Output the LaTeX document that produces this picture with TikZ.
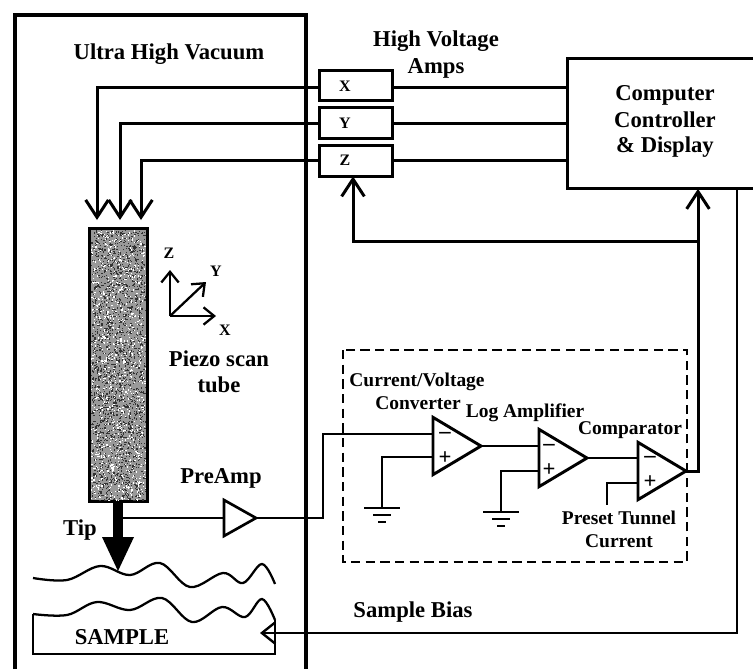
\documentclass[tikz,border=0pt]{standalone}
\usepackage{fontspec}
\setmainfont{Liberation Serif}
\usetikzlibrary{shapes.geometric,arrows.meta,calc}
\tikzset{
 x=0.75pt,y=-0.75pt,
 wire/.style={line width=2.25pt,line join=miter},
 thinwire/.style={line width=1.9pt},
 openarrow/.style={-{Straight Barb[length=13pt,width=17pt,line width=2.25pt]}},
 biasarrow/.style={-{Straight Barb[length=10pt,width=16pt,line width=1.8pt]}},
 label/.style={font=\bfseries\fontsize{17}{19}\selectfont,inner sep=0pt},
 oplabel/.style={font=\bfseries\fontsize{14.6}{17}\selectfont,inner sep=0pt},
 small/.style={font=\bfseries\fontsize{12}{13}\selectfont,inner sep=0pt},
 amp/.style={draw,line width=2.25pt,minimum width=55pt,minimum height=23pt,inner sep=0pt,outer sep=0pt},
 opamp/.style={draw,isosceles triangle,isosceles triangle stretches,line width=2.2pt,minimum width=43pt,minimum height=36pt,inner sep=0pt,outer sep=0pt},
 preamp/.style={draw,isosceles triangle,isosceles triangle stretches,line width=2pt,minimum width=27pt,minimum height=24pt,inner sep=0pt,outer sep=0pt},
 sign/.style={font=\bfseries\fontsize{17}{18}\selectfont,inner sep=0pt},
}
\begin{document}
\begin{tikzpicture}
\useasboundingbox (0,0) rectangle (753,669);
\clip (0,0) rectangle (753,669);
\fill[white] (0,0) rectangle (753,669);
% vacuum chamber
\draw[line width=3pt] (15,669) -- (15,15) -- (306,15) -- (306,669);
\node[label] (uhv) at (169,54) {Ultra High Vacuum};
\node[label] (hva) at (436,41) {High Voltage};
\node[label] (hvb) at (436,68) {Amps};
% amps
\node[amp] (ampx) at (356,85.5) {}; \node[small] (lx) at (345,86) {X};
\node[amp] (ampy) at (356,123) {}; \node[small] (ly) at (345,123) {Y};
\node[amp] (ampz) at (356,161) {}; \node[small] (lz) at (345,160) {Z};
% computer
\node[draw,line width=2.25pt,minimum width=150pt,minimum height=98pt,inner sep=0pt,outer sep=0pt] (comp) at (667,123.5) {};
\node[label] (c1) at (665,95) {Computer};
\node[label] (c2) at (665,120) {Controller};
\node[label] (c3) at (665,147) {\&\ Display};
% tube
\node[draw,line width=2.4pt,minimum width=43.5pt,minimum height=205pt,inner sep=0pt,outer sep=0pt,fill=gray!80] (tube) at (118.5,365) {};
\pgfmathsetseed{7}
\foreach \i in {1,...,3000}{
 \pgfmathsetmacro{\xa}{91+rnd*54}
 \pgfmathsetmacro{\ya}{230+rnd*270}
 \pgfmathparse{mod(\i,3)==0?"white":"black!80"}
 \fill[\pgfmathresult] (\xa,\ya) rectangle ++(1.2,1.2);
}
\coordinate (tx) at (97,220);
\coordinate (ty) at (120,220);
\coordinate (tz) at (141,220);
\coordinate (wx) at (97,87);
\coordinate (wy) at (120,123);
\coordinate (wz) at (141,160);
\draw[wire,openarrow] (ampx.west |- wx) -- (wx) -- (tx);
\draw[wire,openarrow] (ampy.west |- wy) -- (wy) -- (ty);
\draw[wire,openarrow] (ampz.west |- wz) -- (wz) -- (tz);
\draw[wire] (ampx.east |- wx) -- (comp.west |- wx);
\draw[wire] (ampy.east |- wy) -- (comp.west |- wy);
\draw[wire] (ampz.east |- wz) -- (comp.west |- wz);
% axes
\coordinate (o) at (170,316);
\coordinate (zt) at (170,270);
\coordinate (yt) at (206,282);
\coordinate (xt) at (216,316);
\draw[line width=1.7pt,-{Straight Barb[length=8pt,width=13pt,line width=1.7pt]}] (o) -- (zt);
\draw[line width=1.7pt,-{Straight Barb[length=8pt,width=13pt,line width=1.7pt]}] (o) -- (yt);
\draw[line width=1.7pt,-{Straight Barb[length=8pt,width=13pt,line width=1.7pt]}] (o) -- (xt);
\node[small] (az) at (169,253) {Z};
\node[small] (ay) at (216,271) {Y};
\node[small] (ax) at (225,330) {X};
\node[label] (pz1) at (219,359) {Piezo scan};
\node[label] (pz2) at (219,385) {tube};
% tip
\fill (113,503) rectangle (123,540);
\fill (102,537) -- (134,537) -- (118,571) -- cycle;
\coordinate (tipout) at (122,518);
\node[label] (ltip) at (80,530) {Tip};
\node[label] (lpre) at (221,478) {PreAmp};
\node[preamp,anchor=lower side] (pre) at (224,518) {};
\draw[thinwire] (tipout) -- (pre.lower side);
\coordinate (j1) at (323,518);
\coordinate (j2) at (323,434);
% dashed box
\draw[line width=1.6pt,dash pattern=on 7pt off 4pt] (343,350) rectangle (687,562);
\node[opamp,anchor=lower side] (op1) at (433,446) {};
\node[opamp,anchor=lower side] (op2) at (539,458) {};
\node[opamp,anchor=lower side] (op3) at (638,471) {};
\node[sign] (s1) at (445,435) {–};
\node[sign] (s2) at (445,458) {+};
\node[sign] (s3) at (549,447) {–};
\node[sign] (s4) at (549,470) {+};
\node[sign] (s5) at (650,459) {–};
\node[sign] (s6) at (650,482) {+};
\coordinate (op1m) at (433,434);
\coordinate (op1p) at (433,457);
\coordinate (op2p) at (539,471);
\coordinate (op3p) at (638,483);
\draw[thinwire] (pre.apex) -- (j1) -- (j2) -- (op1m);
\draw[thinwire] (op1.apex) -- (op2.lower side |- op1.apex);
\draw[thinwire] (op2.apex) -- (op3.lower side |- op2.apex);
% grounds
\coordinate (g1) at (382,508);
\coordinate (g2) at (501,512);
\draw[thinwire] (op1p) -- (g1 |- op1p) -- (g1);
\draw[thinwire] (op2p) -- (g2 |- op2p) -- (g2);
\draw[thinwire] (op3p) -- (607,483) -- (607,505);
\foreach \gx/\gy in {382/508,501/512}{
 \draw[line width=1.7pt] (\gx-18,\gy) -- (\gx+18,\gy);
 \draw[line width=1.4pt] (\gx-9,\gy+7) -- (\gx+9,\gy+7);
 \draw[line width=1.3pt] (\gx-4,\gy+14) -- (\gx+4,\gy+14);
}
\node[oplabel] (l1) at (417,382) {Current/Voltage};
\node[oplabel] (l2) at (418,403) {Converter};
\node[oplabel] (l3) at (525,413) {Log Amplifier};
\node[oplabel] (l4) at (630,430) {Comparator};
\node[oplabel] (l5) at (619,518) {Preset Tunnel};
\node[oplabel] (l6) at (619,541) {Current};
% feedback
\coordinate (fb) at (698,241);
\coordinate (fc) at (698,471);
\coordinate (fz) at (353,241);
\draw[wire,openarrow] (op3.apex) -- (fc) -- (comp.south -| fc);
\draw[wire,openarrow] (fb) -- (fz) -- (ampz.south -| fz);
% sample
\draw[line width=1.7pt] plot[smooth,tension=0.6] coordinates {(33,578) (67,580) (100,566) (130,575) (160,563) (190,587) (223,573) (243,583) (262,564) (275,584)};
\draw[line width=1.7pt] plot[smooth,tension=0.6] coordinates {(33,614) (67,615) (97,602) (130,610) (162,598) (192,622) (222,607) (245,617) (262,599) (275,620)};
\draw[line width=1.3pt] (33,614) -- (33,654) -- (275,654) -- (275,620);
\node[label] (ls) at (122,637) {SAMPLE};
\coordinate (sm) at (260,633);
\coordinate (br) at (737,633);
\draw[line width=1.7pt,biasarrow] (comp.south -| br) -- (br) -- (sm);
\node[label] (lb) at (413,612) {Sample Bias};
\end{tikzpicture}
\end{document}
